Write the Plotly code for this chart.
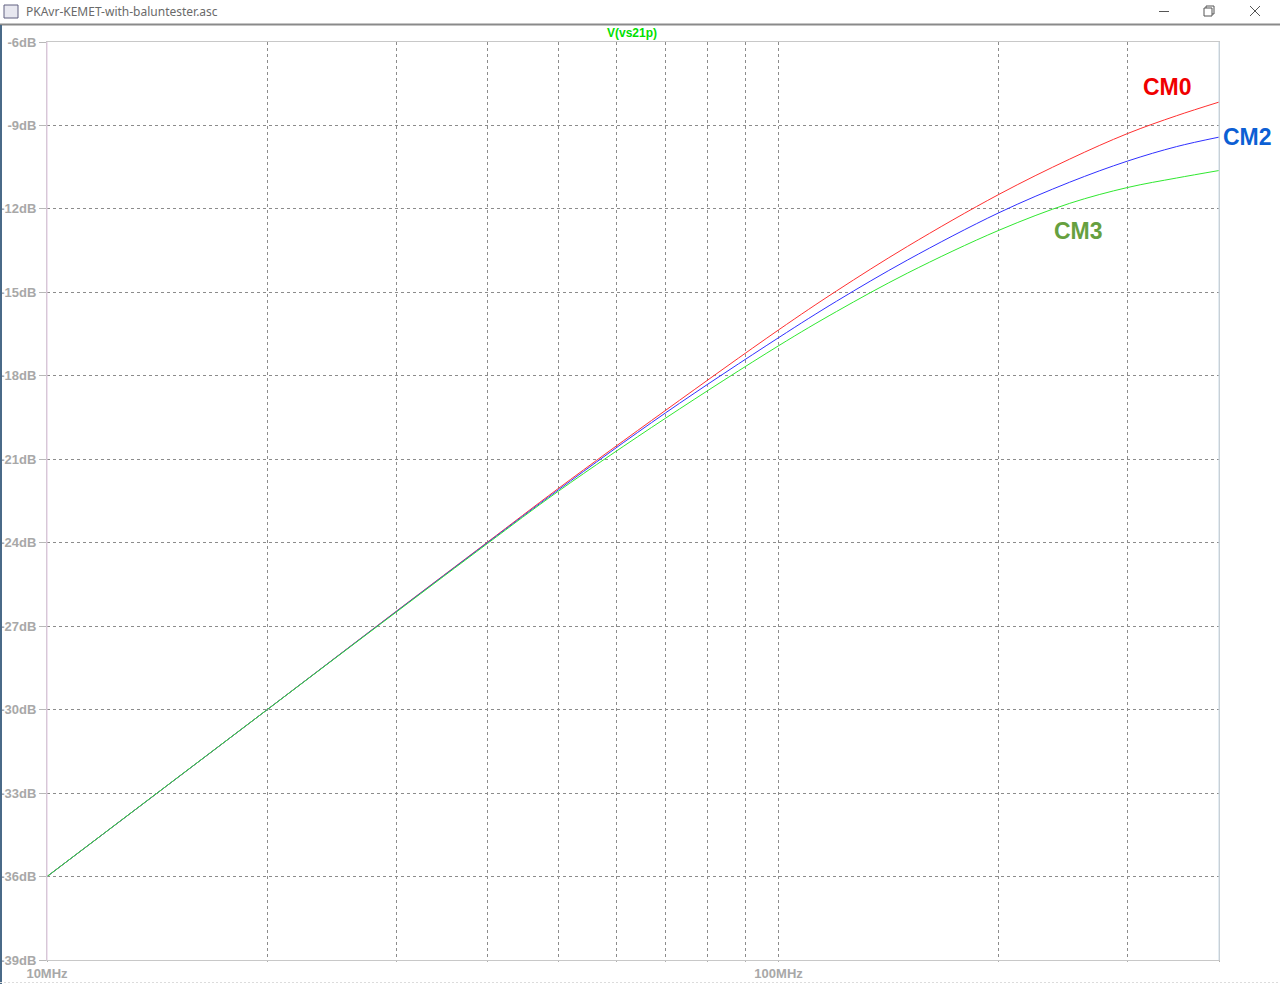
import plotly.graph_objects as go

# ---- data ----
freq_mhz = [10, 20, 30, 40, 50, 70, 100, 120, 150, 200, 250, 300, 350, 400]
cm0_db = [-36.0, -30.0, -26.47, -23.98, -22.05, -19.25, -16.35, -14.95, -13.35, -11.48, -10.21, -9.29, -8.65, -8.16]
cm2_db = [-36.0, -30.0, -26.48, -24.00, -22.10, -19.34, -16.63, -15.32, -13.84, -12.14, -11.04, -10.28, -9.76, -9.42]
cm3_db = [-36.0, -30.0, -26.50, -24.03, -22.15, -19.53, -16.92, -15.69, -14.31, -12.77, -11.80, -11.23, -10.89, -10.62]

y_ticks = [-39, -36, -33, -30, -27, -24, -21, -18, -15, -12, -9, -6]
y_ticktext = [f"{v}dB" for v in y_ticks]
x_ticks_mhz = [10, 20, 30, 40, 50, 60, 70, 80, 90, 100, 200, 300, 400]
x_ticktext = ["10MHz", "", "", "", "", "", "", "", "", "100MHz", "", "", ""]

window_title = "PKAvr-KEMET-with-baluntester.asc"
trace_title = "V(vs21p)"

# ---- layout geometry (pixels) ----
W, H = 1280, 984
PL, PR, PT, PB = 47, 1219, 42, 960


def px(x):
    return (x - PL) / (PR - PL)


def py(y):
    return (PB - y) / (PB - PT)


hz = [f * 1e6 for f in freq_mhz]
fig = go.Figure()
for name, vals, col in [("CM0", cm0_db, "#ff3030"), ("CM2", cm2_db, "#3030ff"), ("CM3", cm3_db, "#30e830")]:
    fig.add_trace(go.Scatter(x=hz, y=vals, mode="lines", name=name,
                             line=dict(color=col, width=1, shape="spline", smoothing=1.0)))

tickfont = dict(family="Liberation Sans, Arial", size=13, color="#a8a8a8", weight="bold")
fig.update_xaxes(type="log", range=[7, 8.60206], tickvals=[v * 1e6 for v in x_ticks_mhz],
                 ticktext=x_ticktext, showgrid=True, gridcolor="#8c8c8c", griddash="3px,3px",
                 gridwidth=1, showline=True, linecolor="#c8c8c8", linewidth=1, mirror=True,
                 ticks="outside", ticklen=1, tickcolor="#b0b0b0", tickfont=tickfont, zeroline=False)
fig.update_yaxes(range=[-39, -6], tickvals=y_ticks, ticktext=y_ticktext, showgrid=True,
                 gridcolor="#8c8c8c", griddash="3px,3px", gridwidth=1, showline=True,
                 linecolor="#c8c8c8", linewidth=1, mirror=True, ticks="outside", ticklen=7,
                 tickcolor="#b8b8b8", tickfont=tickfont, zeroline=False)

shapes = []
# window chrome
shapes.append(dict(type="line", xref="paper", yref="paper", x0=px(0), x1=px(W), y0=py(24.5), y1=py(24.5),
                   line=dict(color="#8a8a8a", width=2)))
shapes.append(dict(type="line", xref="paper", yref="paper", x0=px(1), x1=px(1), y0=py(25), y1=py(984),
                   line=dict(color="#4a6a88", width=2)))
shapes.append(dict(type="line", xref="paper", yref="paper", x0=px(0), x1=px(W), y0=py(982.5), y1=py(982.5),
                   line=dict(color="#dcdcdc", width=1, dash="2px,2px")))
# minimize
shapes.append(dict(type="line", xref="paper", yref="paper", x0=px(1159), x1=px(1169), y0=py(11.5), y1=py(11.5),
                   line=dict(color="#555555", width=1)))
# restore
shapes.append(dict(type="rect", xref="paper", yref="paper", x0=px(1204), x1=px(1212), y0=py(16), y1=py(8),
                   line=dict(color="#555555", width=1)))
shapes.append(dict(type="path", xref="paper", yref="paper",
                   path=f"M {px(1206)} {py(8)} L {px(1206)} {py(6)} L {px(1214)} {py(6)} L {px(1214)} {py(14)} L {px(1212)} {py(14)}",
                   line=dict(color="#555555", width=1)))
# close
shapes.append(dict(type="line", xref="paper", yref="paper", x0=px(1250), x1=px(1260), y0=py(6), y1=py(16),
                   line=dict(color="#555555", width=1)))
shapes.append(dict(type="line", xref="paper", yref="paper", x0=px(1250), x1=px(1260), y0=py(16), y1=py(6),
                   line=dict(color="#555555", width=1)))
# icon
shapes.append(dict(type="rect", xref="paper", yref="paper", x0=px(4), x1=px(18), y0=py(18), y1=py(5),
                   line=dict(color="#606080", width=1), fillcolor="#e8e8f0"))
# frame tints
shapes.append(dict(type="line", xref="paper", yref="paper", x0=0, x1=0, y0=0, y1=1,
                   line=dict(color="#e4c8e4", width=1)))
shapes.append(dict(type="line", xref="paper", yref="paper", x0=1, x1=1, y0=0, y1=1,
                   line=dict(color="#c8d8e4", width=1)))

annotations = [
    dict(text=window_title, xref="paper", yref="paper", x=px(24), y=py(12), xanchor="left", yanchor="middle",
         showarrow=False, font=dict(family="Noto Sans, Open Sans", size=12, color="#6a6a6a")),
    dict(text=trace_title, xref="paper", yref="paper", x=px(632), y=py(33), xanchor="center", yanchor="middle",
         showarrow=False, font=dict(family="Liberation Sans, Arial", size=12, color="#00e000", weight="bold")),
    dict(text="CM0", xref="paper", yref="paper", x=px(1167), y=py(87), xanchor="center", yanchor="middle",
         showarrow=False, font=dict(family="Liberation Sans, Arial", size=23, color="#f00000", weight="bold")),
    dict(text="CM2", xref="paper", yref="paper", x=px(1247), y=py(137), xanchor="center", yanchor="middle",
         showarrow=False, font=dict(family="Liberation Sans, Arial", size=23, color="#0c5fd4", weight="bold")),
    dict(text="CM3", xref="paper", yref="paper", x=px(1078), y=py(231), xanchor="center", yanchor="middle",
         showarrow=False, font=dict(family="Liberation Sans, Arial", size=23, color="#66a040", weight="bold")),
]

fig.update_layout(width=W, height=H, margin=dict(l=PL, r=W - PR, t=PT, b=H - PB, autoexpand=False),
                  paper_bgcolor="white", plot_bgcolor="white", showlegend=False,
                  shapes=shapes, annotations=annotations)

fig.write_html("out.html", config={"displayModeBar": False},
               post_script="document.body.style.margin='0';document.body.style.overflow='hidden';")
